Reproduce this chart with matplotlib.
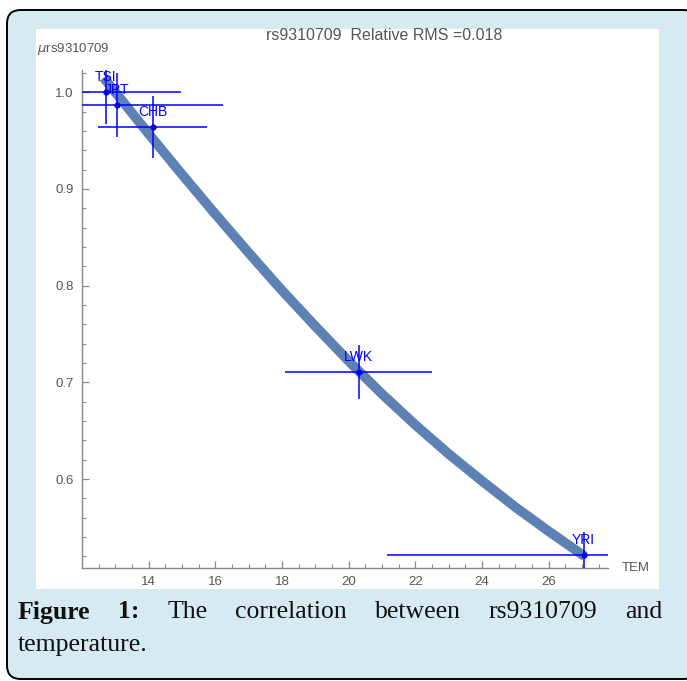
import matplotlib
matplotlib.use("Agg")
import matplotlib.pyplot as plt
from matplotlib.patches import FancyBboxPatch, Rectangle
from matplotlib.ticker import MultipleLocator

# populations: mean temperature, relative frequency and their errors
pops = ["TSI", "JPT", "CHB", "LWK", "YRI"]
tem = [12.71, 13.04, 14.12, 20.30, 27.05]
tem_err = [2.25, 3.20, 1.64, 2.20, 5.90]
mu = [1.000, 0.9866, 0.9638, 0.7106, 0.5214]
mu_err = [0.033, 0.033, 0.032, 0.028, 0.024]

# fitted curve
fit_t = [12.65, 13, 14, 15, 16, 17, 18, 19, 20, 21, 22, 23, 24, 25, 26, 27, 27.08]
fit_mu = [1.015, 1.000, 0.957, 0.915, 0.874, 0.834, 0.795, 0.758, 0.722,
          0.688, 0.656, 0.626, 0.598, 0.571, 0.546, 0.522, 0.520]

W, H = 687, 681
fig = plt.figure(figsize=(W / 100, H / 100), dpi=100)
fig.patch.set_facecolor("white")

bg = "#d6ebf1"
frame = FancyBboxPatch((7 / W, 1 - 679 / H), 690 / W, 669 / H,
                       boxstyle="round,pad=0,rounding_size=0.02",
                       transform=fig.transFigure, facecolor=bg,
                       edgecolor="black", lw=1.4, zorder=-2)
fig.patches.append(frame)
panel = Rectangle((36 / W, 1 - 589 / H), (659 - 36) / W, (589 - 29) / H,
                  transform=fig.transFigure, facecolor="white", edgecolor="none",
                  zorder=-1)
fig.patches.append(panel)

ax = fig.add_axes([82 / W, 1 - 568 / H, (608 - 82) / W, (568 - 70) / H])
ax.set_facecolor("none")
ax.set_zorder(5)

ax.plot(fit_t, fit_mu, color="#5e81b5", lw=7, solid_capstyle="butt",
        solid_joinstyle="round", zorder=2)
ax.errorbar(tem, mu, xerr=tem_err, yerr=mu_err, fmt="o", color="#0000ff",
            ms=3.5, lw=1.1, capsize=0, zorder=3)
for p, x, y in zip(pops, tem, mu):
    ax.annotate(p, (x, y), xytext=(0, 6), textcoords="offset points",
                ha="center", va="bottom", color="#0000ff", fontsize=10,
                family="Liberation Sans", zorder=4)

ax.set_xlim(12, 27.78)
ax.set_ylim(0.508, 1.023)
ax.xaxis.set_minor_locator(MultipleLocator(0.5))
ax.yaxis.set_minor_locator(MultipleLocator(0.02))
ax.set_xticks([14, 16, 18, 20, 22, 24, 26])
ax.set_yticks([0.6, 0.7, 0.8, 0.9, 1.0])
ax.set_yticklabels(["0.6", "0.7", "0.8", "0.9", "1.0"])

for s in ["top", "right"]:
    ax.spines[s].set_visible(False)
for s in ["left", "bottom"]:
    ax.spines[s].set_color("#888888")
    ax.spines[s].set_linewidth(1.0)
ax.tick_params(which="both", direction="in", colors="#888888", labelcolor="#555555",
               labelsize=9.5)
ax.tick_params(which="major", length=5, width=0.9, pad=6)
ax.tick_params(which="minor", length=3, width=0.8)
for lab in ax.get_xticklabels() + ax.get_yticklabels():
    lab.set_family("Liberation Sans")

fig.text(384 / W, 1 - 36 / H, "rs9310709  Relative RMS =0.018", ha="center",
         va="center", color="#555555", fontsize=11.5, family="Liberation Sans")
fig.text(37 / W, 1 - 49 / H, r"$\mu$rs9310709", ha="left", va="center",
         color="#555555", fontsize=9.5, family="Liberation Sans")
fig.text(622 / W, 1 - 568 / H, "TEM", ha="left", va="center",
         color="#555555", fontsize=9.5, family="Liberation Sans")

# caption, first line justified between x=18 and x=662
cap_font = dict(fontsize=18.5, family="Liberation Serif", color="#111111", va="center")
words = [("Figure", "bold"), ("1:", "bold"), ("The", "normal"),
         ("correlation", "normal"), ("between", "normal"),
         ("rs9310709", "normal"), ("and", "normal")]
rend = fig.canvas.get_renderer()
texts = [fig.text(0, 1 - 612 / H, w, ha="left", fontweight=fw, **cap_font)
         for w, fw in words]
widths = [t.get_window_extent(rend).width for t in texts]
gap = (662 - 18 - sum(widths)) / (len(words) - 1)
x = 18
for t, wd in zip(texts, widths):
    t.set_x(x / W)
    x += wd + gap
fig.text(18 / W, 1 - 645 / H, "temperature.", ha="left", **cap_font)

fig.savefig("out.png", dpi=100)
